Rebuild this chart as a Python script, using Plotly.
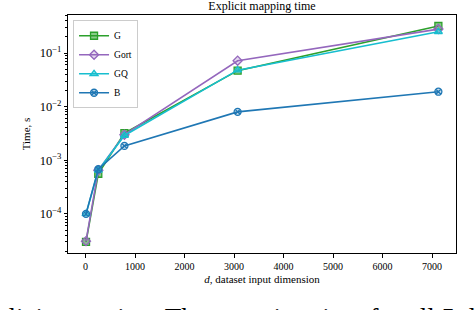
import plotly.graph_objects as go

dims = [8, 256, 784, 3072, 7129]
series_names = ["G", "Gort", "GQ", "B"]
g_vals = [3.0e-5, 5.6e-4, 3.2e-3, 0.047, 0.32]
gort_vals = [3.1e-5, 6.5e-4, 3.0e-3, 0.072, 0.28]
gq_vals = [1.0e-4, 6.5e-4, 2.9e-3, 0.048, 0.25]
b_vals = [1.0e-4, 6.8e-4, 1.85e-3, 8.0e-3, 0.019]
colors = ["#2ca02c", "#9467bd", "#17becf", "#1f77b4"]
symbols = ["square", "diamond", "triangle-up", "circle-x"]
fills = ["rgba(44,160,44,0.55)", "rgba(148,103,189,0.25)", "rgba(23,190,207,0.45)", "rgba(31,119,180,0.25)"]
x_ticks = [0, 1000, 2000, 3000, 4000, 5000, 6000, 7000]
caption = "plicit mapping. The mapping time for all 5 d"

FONT = "Liberation Serif"
fig = go.Figure()
for name, vals, c, s, f in zip(series_names, [g_vals, gort_vals, gq_vals, b_vals], colors, symbols, fills):
    fig.add_trace(go.Scatter(
        x=dims, y=vals, name=name, mode="lines+markers",
        line=dict(color=c, width=1.6),
        marker=dict(symbol=s, size=7, color=f, line=dict(color=c, width=1.3)),
    ))

fig.update_layout(
    width=476, height=310,
    margin=dict(l=68, r=20, t=15, b=57),
    paper_bgcolor="white", plot_bgcolor="white",
    font=dict(family=FONT, size=10, color="black"),
    title=dict(text="Explicit mapping time", x=0.5, xref="paper", xanchor="center",
               y=0.98, yref="container", yanchor="middle",
               font=dict(family=FONT, size=12)),
    showlegend=True,
    legend=dict(x=0.013, y=0.978, xanchor="left", yanchor="top",
                bgcolor="rgba(255,255,255,0.8)", bordercolor="#cccccc", borderwidth=1,
                font=dict(family=FONT, size=9.5), itemwidth=30, tracegroupgap=0),
    xaxis=dict(range=[-356, 7485], tickvals=x_ticks, ticktext=[str(t) for t in x_ticks],
               showgrid=False, zeroline=False, showline=True, mirror=True, linecolor="black", linewidth=1,
               ticks="outside", ticklen=3.5, tickcolor="black",
               title=dict(text="<i>d</i>, dataset input dimension", font=dict(family=FONT, size=11), standoff=4)),
    yaxis=dict(type="log", range=[-4.73, -0.29], dtick=1, exponentformat="power",
               showgrid=False, zeroline=False, showline=True, mirror=True, linecolor="black", linewidth=1,
               ticks="outside", ticklen=3.5, tickcolor="black",
               minor=dict(ticks="outside", ticklen=2, tickcolor="black", showgrid=False),
               title=dict(text="Time, s", font=dict(family=FONT, size=11), standoff=6)),
)

fig.add_annotation(text=caption,
                   xref="paper", yref="paper", x=-0.193, y=-0.20, xanchor="left", yanchor="top",
                   showarrow=False, font=dict(family=FONT, size=27, color="black"))

fig.write_html("out.html", config={"displayModeBar": False},
               post_script="document.body.style.margin='0';")
